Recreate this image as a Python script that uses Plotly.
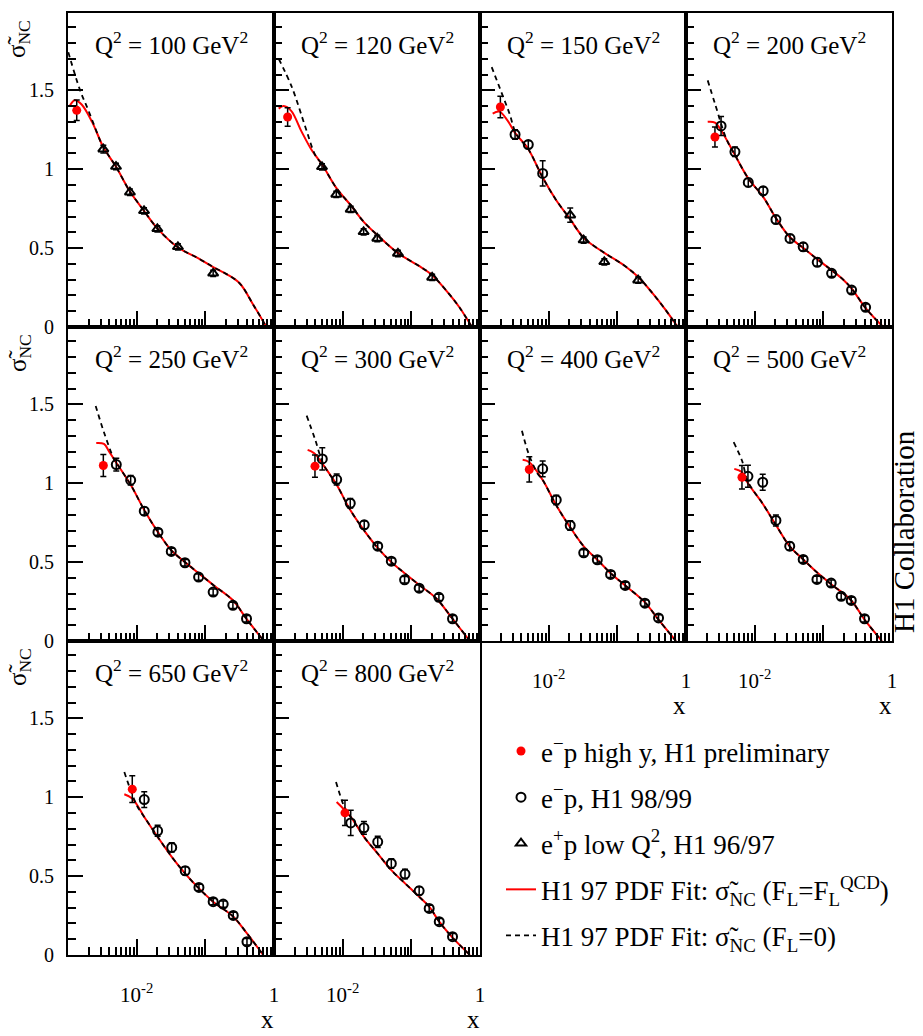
import plotly.graph_objects as go

# ---------------- data ----------------
Q2 = [100, 120, 150, 200, 250, 300, 400, 500, 650, 800]

# e-p high y, H1 preliminary (one point per panel)
HIGHY_X = [0.00134, 0.00158, 0.00198, 0.00264, 0.00327, 0.00395, 0.00522, 0.00653, 0.00863, 0.0108]
HIGHY_Y = [1.373, 1.331, 1.394, 1.204, 1.112, 1.108, 1.087, 1.038, 1.051, 0.901]
HIGHY_ERR = [0.065, 0.058, 0.068, 0.063, 0.070, 0.070, 0.080, 0.074, 0.085, 0.080]

# e-p, H1 98/99 (open circles)
EP_X = [
    [],
    [],
    [0.00324, 0.00505, 0.00818],
    [0.00324, 0.00516, 0.00807, 0.0133, 0.0204, 0.0327, 0.0509, 0.0815, 0.132, 0.258, 0.413],
    [0.00505, 0.00818, 0.0129, 0.0204, 0.0319, 0.0505, 0.0798, 0.130, 0.252, 0.398],
    [0.00505, 0.00818, 0.0129, 0.0206, 0.0324, 0.0511, 0.0798, 0.130, 0.252, 0.398],
    [0.00818, 0.0129, 0.0206, 0.0324, 0.0511, 0.0798, 0.130, 0.252, 0.398],
    [0.00798, 0.0131, 0.0204, 0.0324, 0.0509, 0.0807, 0.130, 0.182, 0.255, 0.398],
    [0.0129, 0.0202, 0.0324, 0.0509, 0.0807, 0.130, 0.182, 0.255, 0.404],
    [0.0131, 0.0204, 0.0324, 0.0511, 0.0809, 0.130, 0.182, 0.255, 0.398],
]
EP_Y = [
    [],
    [],
    [1.220, 1.156, 0.973],
    [1.274, 1.110, 0.916, 0.863, 0.681, 0.561, 0.508, 0.410, 0.340, 0.234, 0.125],
    [1.118, 1.019, 0.823, 0.690, 0.568, 0.496, 0.405, 0.310, 0.226, 0.141],
    [1.154, 1.023, 0.873, 0.736, 0.601, 0.506, 0.388, 0.335, 0.277, 0.141],
    [1.091, 0.894, 0.732, 0.559, 0.515, 0.422, 0.352, 0.240, 0.146],
    [1.044, 1.006, 0.764, 0.601, 0.517, 0.390, 0.367, 0.283, 0.257, 0.141],
    [0.985, 0.787, 0.682, 0.534, 0.428, 0.338, 0.323, 0.251, 0.084],
    [0.837, 0.806, 0.717, 0.580, 0.513, 0.407, 0.295, 0.211, 0.116],
]
EP_ERR = [
    [],
    [],
    [0.030, 0.025, 0.080],
    [0.060, 0.030, 0.025, 0.025, 0.025, 0.025, 0.025, 0.025, 0.020, 0.020, 0.020],
    [0.040, 0.030, 0.025, 0.020, 0.020, 0.020, 0.020, 0.020, 0.020, 0.020],
    [0.070, 0.035, 0.030, 0.025, 0.020, 0.020, 0.020, 0.020, 0.020, 0.020],
    [0.050, 0.030, 0.030, 0.020, 0.020, 0.020, 0.020, 0.020, 0.020],
    [0.070, 0.050, 0.035, 0.025, 0.020, 0.020, 0.020, 0.020, 0.020, 0.020],
    [0.050, 0.035, 0.030, 0.025, 0.020, 0.020, 0.020, 0.020, 0.020],
    [0.080, 0.040, 0.035, 0.030, 0.030, 0.025, 0.020, 0.020, 0.020],
]

# e+p low Q2, H1 96/97 (open triangles)
LOWQ2_X = [
    [0.00327, 0.00500, 0.00798, 0.0128, 0.0200, 0.0399, 0.130],
    [0.00500, 0.00807, 0.0131, 0.0202, 0.0319, 0.0638, 0.201],
    [0.0206, 0.0323, 0.0646, 0.201],
    [], [], [], [], [], [], [],
]
LOWQ2_Y = [
    [1.127, 1.017, 0.854, 0.736, 0.622, 0.508, 0.340],
    [1.015, 0.840, 0.745, 0.603, 0.561, 0.466, 0.314],
    [0.709, 0.551, 0.413, 0.297],
    [], [], [], [], [], [], [],
]
LOWQ2_ERR = [
    [0.025, 0.020, 0.020, 0.020, 0.020, 0.020, 0.020],
    [0.020, 0.020, 0.020, 0.020, 0.020, 0.020, 0.020],
    [0.045, 0.020, 0.020, 0.020],
    [], [], [], [], [], [], [],
]

# H1 97 PDF fit, F_L = F_L^QCD (red curve)
FIT_X = [
    [0.00107, 0.00126, 0.00158, 0.00224, 0.00327, 0.00501, 0.00794, 0.0126, 0.0200, 0.0398, 0.0794, 0.130, 0.204, 0.316, 0.501, 0.776],
    [0.00117, 0.00138, 0.00178, 0.00251, 0.00355, 0.00501, 0.00813, 0.0132, 0.0204, 0.0316, 0.0631, 0.126, 0.200, 0.349, 0.501, 0.762],
    [0.00153, 0.00191, 0.00251, 0.00324, 0.00501, 0.00813, 0.0126, 0.0204, 0.0324, 0.0646, 0.126, 0.200, 0.327, 0.501, 0.759],
    [0.00207, 0.00264, 0.00324, 0.00516, 0.00813, 0.0133, 0.0204, 0.0324, 0.0513, 0.0813, 0.132, 0.195, 0.257, 0.413, 0.745],
    [0.00258, 0.00334, 0.00398, 0.00505, 0.00818, 0.0129, 0.0204, 0.0319, 0.0505, 0.0798, 0.133, 0.252, 0.398, 0.713],
    [0.00309, 0.00355, 0.00395, 0.00513, 0.00818, 0.0129, 0.0206, 0.0324, 0.0511, 0.0798, 0.133, 0.233, 0.398, 0.713],
    [0.00418, 0.00522, 0.00818, 0.0129, 0.0206, 0.0324, 0.0511, 0.0798, 0.130, 0.252, 0.398, 0.713],
    [0.00505, 0.00653, 0.00798, 0.0131, 0.0204, 0.0324, 0.0509, 0.0807, 0.130, 0.255, 0.398, 0.713],
    [0.00661, 0.00863, 0.0129, 0.0202, 0.0324, 0.0509, 0.0807, 0.130, 0.255, 0.404, 0.697],
    [0.00817, 0.0131, 0.0204, 0.0324, 0.0511, 0.0809, 0.130, 0.182, 0.255, 0.398, 0.713],
]
FIT_Y = [
    [1.405, 1.437, 1.410, 1.300, 1.140, 1.015, 0.860, 0.740, 0.625, 0.505, 0.435, 0.380, 0.335, 0.277, 0.140, 0.0],
    [1.384, 1.400, 1.370, 1.240, 1.120, 1.030, 0.880, 0.770, 0.665, 0.585, 0.470, 0.390, 0.330, 0.213, 0.125, 0.0],
    [1.352, 1.365, 1.310, 1.230, 1.130, 0.950, 0.810, 0.685, 0.565, 0.470, 0.390, 0.318, 0.213, 0.110, 0.0],
    [1.300, 1.295, 1.247, 1.090, 0.940, 0.825, 0.690, 0.570, 0.500, 0.430, 0.360, 0.300, 0.245, 0.120, 0.0],
    [1.255, 1.249, 1.200, 1.130, 0.990, 0.830, 0.690, 0.575, 0.500, 0.430, 0.352, 0.258, 0.140, 0.0],
    [1.211, 1.200, 1.186, 1.120, 0.990, 0.830, 0.700, 0.590, 0.500, 0.430, 0.352, 0.268, 0.141, 0.0],
    [1.148, 1.133, 1.020, 0.860, 0.720, 0.600, 0.515, 0.430, 0.352, 0.245, 0.135, 0.0],
    [1.091, 1.070, 1.000, 0.870, 0.735, 0.600, 0.517, 0.435, 0.360, 0.257, 0.135, 0.0],
    [1.019, 0.992, 0.875, 0.749, 0.622, 0.516, 0.422, 0.338, 0.243, 0.137, 0.0],
    [0.970, 0.875, 0.749, 0.643, 0.538, 0.454, 0.369, 0.306, 0.211, 0.110, 0.0],
]

# H1 97 PDF fit, F_L = 0 (black dashed) - low-x part where it departs from the red curve
FL0_X = [
    [0.00101, 0.00150, 0.00198, 0.00295],
    [0.00117, 0.00182, 0.00286, 0.00398],
    [0.00148, 0.00204, 0.00269, 0.00339],
    [0.00207, 0.00264, 0.00389],
    [0.00253, 0.00334, 0.00468],
    [0.00299, 0.00395, 0.00525],
    [0.00408, 0.00522, 0.00692],
    [0.00494, 0.00653, 0.00798],
    [0.00661, 0.0100],
    [0.00800, 0.0114],
]
FL0_Y = [
    [1.742, 1.500, 1.373, 1.180],
    [1.700, 1.520, 1.268, 1.090],
    [1.647, 1.490, 1.352, 1.220],
    [1.563, 1.416, 1.190],
    [1.490, 1.323, 1.152],
    [1.428, 1.280, 1.120],
    [1.333, 1.175, 1.060],
    [1.260, 1.144, 1.010],
    [1.160, 0.950],
    [1.097, 0.905],
]

X_TICKVALS = [0.01, 0.1, 1]
X_TICKTEXT = ["10<sup>-2</sup>", "", "1"]
X_MINOR = [m * d for d in (0.001, 0.01, 0.1) for m in range(2, 10)]
Y_TICKVALS = [0, 0.5, 1, 1.5]
Y_TICKTEXT = ["0", "0.5", "1", "1.5"]

FONT = "Liberation Serif, DejaVu Serif, Noto Serif, Times New Roman, serif"
RED = "#ff0000"

# page layout (pixels of the 923 x 1036 page)
PAGE_W, PAGE_H = 923, 1036
PLOT_L, PLOT_R, PLOT_T, PLOT_B = 68, 892, 13, 955
PW, PH = PLOT_R - PLOT_L, PLOT_B - PLOT_T


def px(xp):
    return (xp - PLOT_L) / PW


def py(yp):
    return (PLOT_B - yp) / PH


# ---------------- figure ----------------
fig = go.Figure()
ncols, nrows = 4, 3
bottom_panels = {6, 7, 8, 9}   # panels whose x tick labels are shown

for i, q2 in enumerate(Q2):
    row, col = divmod(i, ncols)
    n = "" if i == 0 else str(i + 1)
    xa, ya = "x" + n, "y" + n

    # red fit curve
    fig.add_trace(go.Scatter(
        x=FIT_X[i], y=FIT_Y[i], mode="lines", xaxis=xa, yaxis=ya,
        line=dict(color=RED, width=2, shape="spline", smoothing=1.0),
        name="H1 97 PDF Fit: σ̃<sub>NC</sub> (F<sub>L</sub>=F<sub>L</sub><sup>QCD</sup>)",
        legendgroup="fit", legendrank=4, showlegend=(i == 0)))

    # dashed F_L = 0 curve: low-x part followed by the common part of the fit
    dx = list(FL0_X[i]) + [x for x in FIT_X[i] if x > FL0_X[i][-1]]
    dy = list(FL0_Y[i]) + [y for x, y in zip(FIT_X[i], FIT_Y[i]) if x > FL0_X[i][-1]]
    fig.add_trace(go.Scatter(
        x=dx, y=dy, mode="lines", xaxis=xa, yaxis=ya,
        line=dict(color="black", width=1.8, dash="5px,4px", shape="spline", smoothing=1.0),
        name="H1 97 PDF Fit: σ̃<sub>NC</sub> (F<sub>L</sub>=0)",
        legendgroup="fl0", legendrank=5, showlegend=(i == 0)))

    if LOWQ2_X[i]:
        fig.add_trace(go.Scatter(
            x=LOWQ2_X[i], y=LOWQ2_Y[i], mode="markers", xaxis=xa, yaxis=ya,
            marker=dict(symbol="triangle-up-open", size=9, color="black", line=dict(width=2, color="black")),
            error_y=dict(type="data", array=LOWQ2_ERR[i], color="black", thickness=1.5, width=3),
            name="e<sup>+</sup>p low Q<sup>2</sup>, H1 96/97",
            legendgroup="lowq2", legendrank=3, showlegend=(i == 0)))

    if EP_X[i]:
        fig.add_trace(go.Scatter(
            x=EP_X[i], y=EP_Y[i], mode="markers", xaxis=xa, yaxis=ya,
            marker=dict(symbol="circle-open", size=9, color="black", line=dict(width=2, color="black")),
            error_y=dict(type="data", array=EP_ERR[i], color="black", thickness=1.5, width=3),
            name="e<sup>−</sup>p, H1 98/99",
            legendgroup="ep", legendrank=2, showlegend=(i == 2)))

    fig.add_trace(go.Scatter(
        x=[HIGHY_X[i]], y=[HIGHY_Y[i]], mode="markers", xaxis=xa, yaxis=ya,
        marker=dict(symbol="circle", size=9, color=RED),
        error_y=dict(type="data", array=[HIGHY_ERR[i]], color="black", thickness=1.5, width=3),
        name="e<sup>−</sup>p high y, H1 preliminary",
        legendgroup="highy", legendrank=1, showlegend=(i == 0)))

    xdom = [col / ncols, (col + 1) / ncols]
    ydom = [1 - (row + 1) / nrows, 1 - row / nrows]
    fig.update_layout(**{
        "xaxis" + n: dict(
            type="log", range=[-3, 0], domain=xdom, anchor=ya, automargin=False,
            showline=True, linecolor="black", linewidth=2, mirror=True,
            showgrid=False, zeroline=False,
            ticks="inside", ticklen=16, tickwidth=1.5, tickcolor="black",
            tickmode="array", tickvals=X_TICKVALS, ticktext=X_TICKTEXT,
            showticklabels=(i in bottom_panels), ticklabelstandoff=20,
            tickfont=dict(family=FONT, size=21, color="black"),
            minor=dict(tickmode="array", tickvals=X_MINOR, ticks="inside",
                       ticklen=8, tickwidth=1.5, tickcolor="black", showgrid=False),
        ),
        "yaxis" + n: dict(
            range=[0, 1.99], domain=ydom, anchor=xa, automargin=False,
            showline=True, linecolor="black", linewidth=2, mirror=True,
            showgrid=False, zeroline=False,
            ticks="inside", ticklen=15, tickwidth=1.5, tickcolor="black",
            tickmode="array", tickvals=Y_TICKVALS, ticktext=Y_TICKTEXT,
            showticklabels=(col == 0), ticklabelstandoff=8,
            tickfont=dict(family=FONT, size=20, color="black"),
            minor=dict(dtick=0.1, ticks="inside", ticklen=8, tickwidth=1.5,
                       tickcolor="black", showgrid=False),
        ),
    })

    # panel title
    fig.add_annotation(
        text=f"Q<sup>2</sup> = {q2} GeV<sup>2</sup>",
        xref=xa + " domain", yref=ya + " domain", x=0.5, y=1, yshift=-30,
        xanchor="center", yanchor="middle", showarrow=False,
        font=dict(family=FONT, size=25, color="black"))

    if i in bottom_panels:
        fig.add_annotation(
            text="x", xref=xa + " domain", yref=ya + " domain", x=1, y=0,
            xshift=-7, yshift=-80, xanchor="center", yanchor="bottom", showarrow=False,
            font=dict(family=FONT, size=25, color="black"))

# y-axis titles at the top of each row
for row in range(nrows):
    fig.add_annotation(
        text="σ̃<sub>NC</sub>", xref="paper", yref="paper",
        x=px(19), y=py(PLOT_T + 314 * row + 26),
        xanchor="center", yanchor="middle", textangle=-90, showarrow=False,
        font=dict(family=FONT, size=25, color="black"))

fig.add_annotation(
    text="H1 Collaboration", xref="paper", yref="paper",
    x=px(904), y=py(532),
    xanchor="center", yanchor="middle", textangle=-90, showarrow=False,
    font=dict(family=FONT, size=29, color="black"))

fig.update_layout(
    width=PAGE_W, height=PAGE_H, autosize=False,
    margin=dict(l=PLOT_L, r=PAGE_W - PLOT_R, t=PLOT_T, b=PAGE_H - PLOT_B),
    paper_bgcolor="white", plot_bgcolor="white",
    font=dict(family=FONT, color="black"),
    legend=dict(
        x=px(501), y=py(727), xanchor="left", yanchor="top",
        font=dict(family=FONT, size=27, color="black"),
        bgcolor="rgba(0,0,0,0)", borderwidth=0,
        tracegroupgap=8, itemwidth=30, traceorder="grouped",
    ),
)

# remove the default 8 px page margin so the figure fills the window exactly
fig.write_html("out.html", config={"displayModeBar": False},
               post_script="document.body.style.margin='0';")
